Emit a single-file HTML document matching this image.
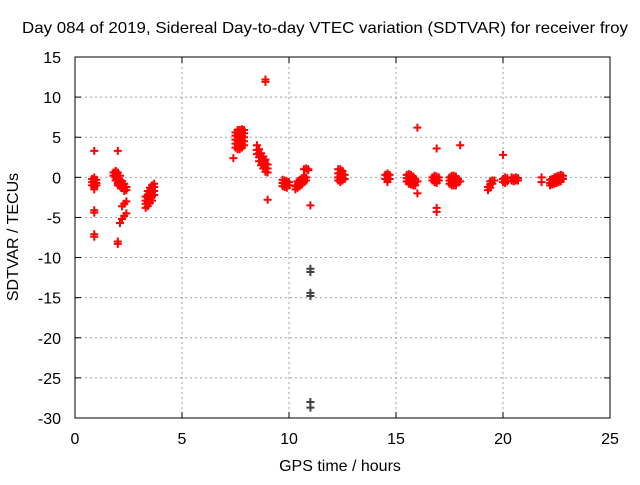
<!DOCTYPE html>
<html><head><meta charset="utf-8"><style>
body{margin:0;background:#fff}
svg text{font-family:"Liberation Sans",sans-serif;font-size:16px;fill:#000}
</style></head><body>
<svg id="c" width="640" height="480" xmlns="http://www.w3.org/2000/svg">
<text x="22" y="33" textLength="606" lengthAdjust="spacingAndGlyphs">Day 084 of 2019, Sidereal Day-to-day VTEC variation (SDTVAR) for receiver froy</text>
<text x="340" y="471" text-anchor="middle">GPS time / hours</text>
<text transform="translate(18,237) rotate(-90)" text-anchor="middle">SDTVAR / TECUs</text>
<g id="grid"></g><g id="pts"></g>
<rect x="75" y="57" width="535" height="361" fill="none" stroke="#000"/>
</svg>
<script>
const xTicks=[0,5,10,15,20,25];
const yTicks=[15,10,5,0,-5,-10,-15,-20,-25,-30];
// columns: [x, y values...]
const redCols=[
[0.8,-0.2,-0.6,-1.0],[0.9,0,-0.4,-0.8,-1.2,-1.5,3.3,-4.1,-4.4,-7.1,-7.4],[1.0,-0.3,-0.7,-1.0],
[1.8,0.6,0.2],[1.9,0.8,0.4,0,-0.4],[2.0,3.3,0.6,0.2,-0.3,-0.7,-1.0,-8.0,-8.3],[2.1,0.2,-0.3,-0.7,-1.1,-5.7],[2.2,-0.5,-0.9,-1.3,-3.6,-5.2],[2.3,-0.8,-1.3,-1.7,-3.3,-4.8],[2.4,-1.2,-1.6,-3.0,-4.5],
[3.3,-3.8,-3.3,-2.9,-2.4],[3.4,-3.6,-3.1,-2.6,-2.2,-1.7],[3.5,-3.2,-2.8,-2.3,-1.8,-1.3],[3.6,-2.9,-2.4,-1.9,-1.4,-1.0],[3.7,-2.2,-1.7,-1.2,-0.8],
[7.4,2.4],[7.5,3.7,4.2,4.7,5.2,5.6],[7.6,3.5,4.0,4.5,5.0,5.5,5.9],[7.7,3.5,4.0,4.5,5.0,5.5,5.9],[7.8,3.7,4.2,4.7,5.2,5.7,6.0],[7.9,4.0,4.5,5.0,5.5,5.9],
[8.5,4.0,3.4,2.9],[8.6,3.5,3.0,2.5,2.0],[8.7,3.0,2.5,2.0,1.5],[8.8,2.6,2.1,1.6,1.1],[8.9,12.2,11.9,2.2,1.7,1.2,0.7],[9.0,1.6,1.1,0.6,-2.8],
[9.7,-0.3,-0.7,-1.1],[9.8,-0.4,-0.8,-1.2],[9.9,-0.5,-0.9,-1.3],[10.0,-0.6,-1.0],
[10.3,-1.5,-1.1],[10.4,-1.3,-0.9,-0.5],[10.5,-1.1,-0.7,-0.3],[10.6,-0.9,-0.5,-0.1],[10.7,-0.6,-0.2,0.1,1.0],[10.8,-0.4,0,1.1],[10.9,0.9,1.0],[11.0,-3.5],
[12.3,1.0,0.5,0,-0.4],[12.4,1.0,0.6,0.2,-0.2,-0.6],[12.5,0.8,0.4,0,-0.4],[12.6,0.3,-0.2],
[14.5,0.3,-0.2],[14.6,0.5,0.1,-0.3,-0.6],[14.7,0.3,-0.2],
[15.5,0.3,-0.1,-0.5],[15.6,0.4,0,-0.4,-0.8],[15.7,0.3,-0.1,-0.5,-0.9],[15.8,0.1,-0.3,-0.7,-1.0],[15.9,-0.2,-0.6,-1.0],[16.0,6.2,-0.5,-2.0],
[16.7,0,-0.4],[16.8,0.2,-0.2,-0.6],[16.9,3.6,0.1,-0.3,-0.7,-3.8,-4.3],[17.0,0,-0.4],
[17.5,0,-0.4,-0.8],[17.6,0.2,-0.2,-0.6,-1.0],[17.7,0.2,-0.2,-0.6,-1.0],[17.8,0.1,-0.3,-0.7,-1.0],[17.9,-0.2,-0.6],[18.0,4.0,-0.5],
[19.3,-1.6,-1.2],[19.4,-1.3,-0.9,-0.5],[19.5,-0.8,-0.4],[19.6,-0.4],
[20.0,2.8,-0.2,-0.6],[20.1,0,-0.4,-0.7],[20.2,-0.1,-0.5],[20.4,0,-0.4],[20.5,-0.1,-0.5],[20.6,0,-0.4],[20.7,-0.1,-0.4],
[21.8,0,-0.6],
[22.2,-0.3,-0.7,-1.0],[22.3,-0.2,-0.6,-0.9],[22.4,0,-0.4,-0.8],[22.5,0.1,-0.3,-0.7],[22.6,0.2,-0.2,-0.6],[22.7,0.3,-0.1,-0.5],[22.8,0.2,-0.2]
];
const blackX=[11.0,11.0,11.0,11.0,11.0,11.0];
const blackY=[-11.4,-11.8,-14.4,-14.8,-28.0,-28.7];
const X=v=>75+v*535/25, Y=v=>57+(15-v)*361/45;
const NS='http://www.w3.org/2000/svg';
const grid=document.getElementById('grid'), pts=document.getElementById('pts'), svg=document.getElementById('c');
function mk(tag,attrs,parent){const e=document.createElementNS(NS,tag);for(const k in attrs)e.setAttribute(k,attrs[k]);parent.appendChild(e);return e;}
xTicks.forEach(t=>{
  if(t>0&&t<25){const l=mk('line',{x1:X(t),x2:X(t),y1:57,y2:418,stroke:'#a0a0a0','stroke-dasharray':'2,3'},grid);
  
  }
  mk('line',{x1:X(t),x2:X(t),y1:418,y2:412,stroke:'#000'},grid);
  mk('line',{x1:X(t),x2:X(t),y1:57,y2:63,stroke:'#000'},grid);
  const tx=mk('text',{x:X(t),y:444,'text-anchor':'middle'},svg);tx.textContent=t;
  
  
});
yTicks.forEach(t=>{
  if(t<15&&t>-30){const l=mk('line',{x1:75,x2:610,y1:Y(t),y2:Y(t),stroke:'#a0a0a0','stroke-dasharray':'2,3'},grid);
  
  }
  mk('line',{x1:75,x2:81,y1:Y(t),y2:Y(t),stroke:'#000'},grid);
  mk('line',{x1:610,x2:604,y1:Y(t),y2:Y(t),stroke:'#000'},grid);
  const tx=mk('text',{x:61,y:Y(t)+6,'text-anchor':'end'},svg);tx.textContent=t;
  
  
});
function plus(x,y,col){
  const d=`M${X(x)-4},${Y(y)}h8M${X(x)},${Y(y)-4}v8`;
  const p=mk('path',{d:d,stroke:col,'stroke-width':2},pts);
  return p;
}
redCols.forEach(c=>{for(let i=1;i<c.length;i++){
  const p=plus(c[0],c[i],'#ff0000');
  
  
}});
blackX.forEach((x,i)=>{
  const p=plus(x,blackY[i],'#404040');
  
  
});
</script>
</body></html>
